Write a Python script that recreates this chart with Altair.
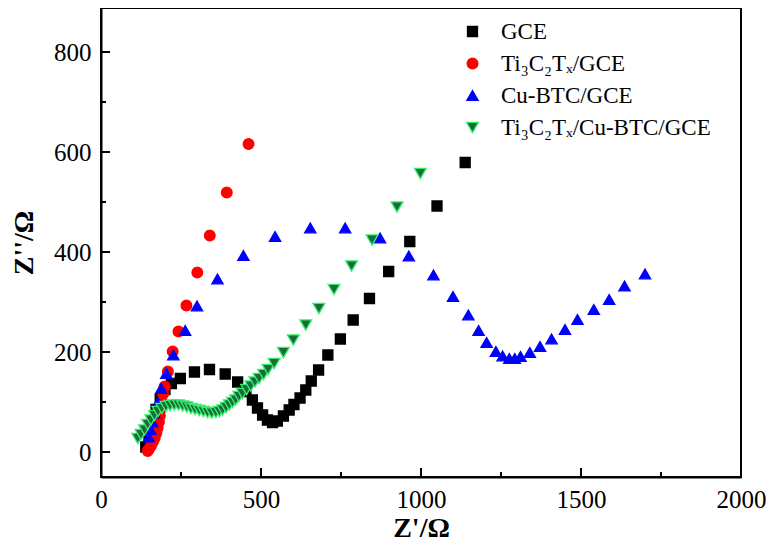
import altair as alt
import pandas as pd

# ---- data (Z' / Ohm, Z'' / Ohm) ----
gce_x = [140, 150, 160, 172, 185, 200, 220, 248, 292, 339, 388, 427, 453, 473, 489, 505, 520, 536,
         551, 570, 588, 603, 622, 640, 657, 680, 709, 748, 788, 839, 899, 965, 1050, 1138]
gce_y = [10, 35, 60, 85, 105, 125, 137, 147, 160, 165, 156, 140, 121, 104, 88, 74, 64, 59,
         62, 72, 84, 95, 108, 124, 142, 164, 194, 226, 264, 307, 361, 421, 492, 579]

ti_x = [146, 150, 156, 162, 168, 173, 177, 181, 184, 187, 190, 194, 199, 209, 224, 242, 267, 301,
        340, 393, 461]
ti_y = [2, 6, 12, 20, 28, 38, 48, 60, 72, 86, 100, 116, 131, 161, 201, 241, 293, 359,
        433, 519, 616]

cu_x = [149, 154, 160, 167, 178, 188, 204, 226, 263, 300, 364, 445, 544, 654, 763, 872, 962, 1039,
        1100, 1148, 1180, 1205, 1234, 1255, 1276, 1293, 1311, 1340, 1372, 1408, 1450, 1489, 1540,
        1588, 1636, 1700]
cu_y = [30, 45, 60, 78, 99, 127, 157, 194, 243, 292, 346, 393, 431, 448, 448, 428, 392, 354,
        311, 274, 243, 219, 201, 192, 187, 187, 191, 199, 211, 226, 245, 265, 285,
        305, 332, 356]

mix_x = [115, 125, 136, 146, 156, 167, 178, 190, 203, 216, 229, 242, 255, 268, 281, 294, 307, 320,
         333, 346, 359, 370, 380, 391, 401, 411, 421, 431, 442, 455, 468, 481, 494, 508, 522, 541,
         570, 601, 640, 681, 728, 783, 847, 925, 998]
mix_y = [27, 35, 44, 55, 64, 73, 81, 87, 91, 93, 94, 94, 92, 90, 87, 85, 83, 81,
         79, 78, 79, 81, 84, 89, 94, 99, 104, 111, 117, 125, 132, 140, 147, 155, 165, 177,
         199, 224, 254, 287, 325, 372, 424, 490, 557]

series_names = ["GCE", "Ti\u2083C\u2082T\u2093/GCE", "Cu-BTC/GCE", "Ti\u2083C\u2082T\u2093/Cu-BTC/GCE"]
fills = ["#000000", "#ff0000", "#0000ff", "#1b6a3a"]
strokes = ["#000000", "#ff0000", "#0000ff", "#33f06a"]
shapes = ["square", "circle", "triangle-up", "triangle-down"]
sizes = [100, 140, 170, 170]

x_labels = [0, 500, 1000, 1500, 2000]
x_major = [500, 1000, 1500]
x_minor = [250, 750, 1250, 1750]
y_major = [0, 200, 400, 600, 800]
y_minor = [100, 300, 500, 700]

rows = []
for name, xs, ys in zip(series_names, [gce_x, ti_x, cu_x, mix_x], [gce_y, ti_y, cu_y, mix_y]):
    for a, b in zip(xs, ys):
        rows.append({"zr": a, "zi": b, "series": name})
df = pd.DataFrame(rows)

FONT = "Liberation Serif"
W, H = 640, 469
xscale = alt.Scale(domain=[0, 2000], nice=False, zero=False)
yscale = alt.Scale(domain=[-50, 888], nice=False, zero=False)
xaxis = alt.Axis(title="Z'/\u03a9", values=x_labels, ticks=False, format="d",
                 labelPadding=10, titlePadding=2, labelFlush=False)
yaxis = alt.Axis(title="Z''/\u03a9", values=y_major, ticks=False, format="d",
                 labelPadding=10, titlePadding=15)

points = alt.Chart(df).mark_point(filled=True, opacity=1, strokeWidth=1.3, strokeOpacity=1).encode(
    x=alt.X("zr:Q", scale=xscale, axis=xaxis),
    y=alt.Y("zi:Q", scale=yscale, axis=yaxis),
    fill=alt.Fill("series:N", scale=alt.Scale(domain=series_names, range=fills)),
    stroke=alt.Stroke("series:N", scale=alt.Scale(domain=series_names, range=strokes)),
    shape=alt.Shape("series:N", scale=alt.Scale(domain=series_names, range=shapes)),
    size=alt.Size("series:N", scale=alt.Scale(domain=series_names, range=sizes)),
)

def xticks(vals, length):
    return alt.Chart(pd.DataFrame({"zr": vals})).mark_rule(color="black", strokeWidth=2).encode(
        x=alt.X("zr:Q", scale=xscale, axis=xaxis),
        y=alt.value(H), y2=alt.value(H - length))

def yticks(vals, length):
    return alt.Chart(pd.DataFrame({"zi": vals})).mark_rule(color="black", strokeWidth=2).encode(
        y=alt.Y("zi:Q", scale=yscale, axis=yaxis),
        x=alt.value(0), x2=alt.value(length))

chart = alt.layer(
    points,
    xticks(x_major, 9), xticks(x_minor, 5),
    yticks(y_major, 9), yticks(y_minor, 5),
).properties(
    width=W, height=H,
    padding={"left": 93, "top": 0, "right": 25, "bottom": 64},
    autosize=alt.AutoSizeParams(type="none"),
).configure_view(
    stroke="black", strokeWidth=2
).configure_axis(
    grid=False, domainColor="black", domainWidth=2,
    labelFont=FONT, labelFontSize=25, labelColor="black",
    titleFont=FONT, titleFontSize=28, titleFontWeight="bold", titleColor="black",
).configure_legend(
    orient="none", legendX=360, legendY=12, title=None, padding=0,
    labelFont=FONT, labelFontSize=23, labelColor="black", labelOffset=17, labelLimit=0,
    rowPadding=8, symbolStrokeWidth=1.3,
)

chart.save("out.html", embed_options={"renderer": "svg", "actions": False})
